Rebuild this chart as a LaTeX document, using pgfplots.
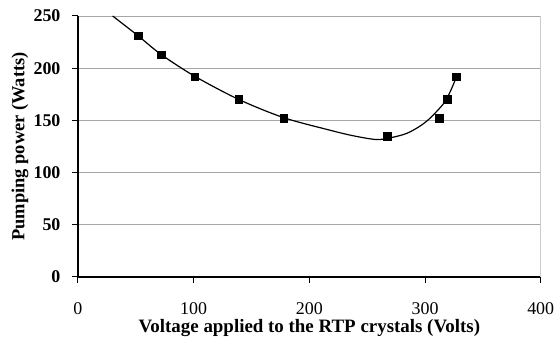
\documentclass[border=0pt]{standalone}
\usepackage{fontspec}
\setmainfont{Liberation Serif}
\usepackage{pgfplots}
\pgfplotsset{compat=1.18}
\begin{document}
\begin{tikzpicture}[x=1bp,y=1bp]
\begin{axis}[
  scale only axis,
  width=463bp, height=261bp,
  xmin=0, xmax=400, ymin=0, ymax=250,
  xtick={0,100,...,400}, ytick={0,50,...,250},
  axis x line*=bottom, axis y line*=left,
  axis line style={black, line width=1.3bp, -},
  tick align=outside,
  major tick length=6bp,
  every tick/.style={black, line width=1bp},
  ymajorgrids,
  grid style={gray!70, line width=0.8bp},
  /pgf/number format/assume math mode=true,
  xticklabel style={font=\fontsize{18}{21}\selectfont, inner sep=1.5bp, anchor=north, yshift=-18.5bp},
  yticklabel style={font=\fontsize{18}{21}\selectfont\bfseries, xshift=-8bp},
  xlabel={\textbf{Voltage applied to the RTP crystals (Volts)}},
  ylabel={\textbf{Pumping power (Watts)}},
  xlabel style={font=\fontsize{19}{22}\selectfont, at={(rel axis cs:0.5,0)}, anchor=center, yshift=-51.5bp},
  ylabel style={font=\fontsize{18.5}{22}\selectfont, at={(rel axis cs:0,0.5)}, anchor=center, yshift=58bp},
  clip=false,
]
\path (rel axis cs:0,0) ++(-78bp,-70bp);
\path (rel axis cs:1,1) ++(15.3bp,16bp);
\draw[gray!40, line width=0.8bp] (rel axis cs:1,0) -- (rel axis cs:1,1);
\addplot[black, line width=1.2bp, smooth, tension=0.5, no marks] coordinates {
(30,250) (52,231) (72,213) (101,192.2) (139,170) (178,152.5) (218,140.5) (238,135.2)
(258,131.6) (271,133.5) (284,137.4) (295,144) (304,151.7) (316,166) (322,178) (328,194)
};
\addplot[only marks, mark=square*, mark size=3.8bp, black] coordinates {
(52,231) (72,213) (101,192) (139,170) (178,152) (267.5,135) (312,152) (319,170) (327,192)
};
\end{axis}
\end{tikzpicture}
\end{document}
